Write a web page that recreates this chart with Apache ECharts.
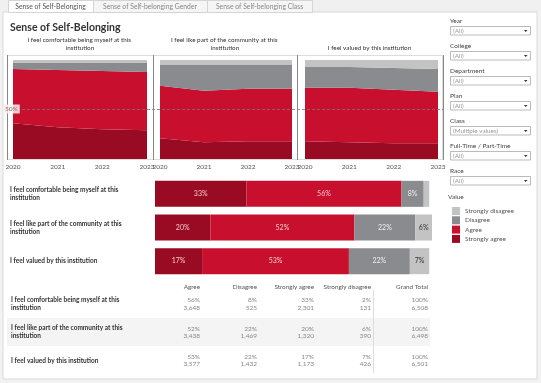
<!DOCTYPE html>
<html><head><meta charset="utf-8">
<script src="https://cdn.jsdelivr.net/npm/echarts@6/dist/echarts.min.js"></script>
<style>html,body{margin:0;padding:0;background:#f2f2f2;}#c{width:541px;height:383px;}</style>
</head><body><div id="c"></div>
<script>
// ---------- data ----------
const years = ['2020', '2021', '2022', '2023'];
const statements = [
  'I feel comfortable being myself at this institution',
  'I feel like part of the community at this institution',
  'I feel valued by this institution'
];
const responses = ['Strongly agree', 'Agree', 'Disagree', 'Strongly disagree'];
const legendOrder = ['Strongly disagree', 'Disagree', 'Agree', 'Strongly agree'];
// yearly share (%) per statement
const comfortSA = [36, 32, 30, 29], comfortA = [55, 58, 59, 59], comfortD = [6, 7, 8, 9], comfortSD = [3, 3, 3, 3];
const communitySA = [21, 17, 18, 18], communityA = [53, 52, 53, 53], communityD = [21, 26, 24, 24], communitySD = [5, 5, 5, 5];
const valuedSA = [18, 17, 16, 16], valuedA = [54, 55, 54, 52], valuedD = [21, 21, 22, 23], valuedSD = [7, 7, 8, 9];
// overall share (%)
const overallSA = [33, 20, 17], overallA = [56, 52, 53], overallD = [8, 22, 22], overallSD = [2, 6, 7];
const overallTotal = [100, 100, 100];
// counts
const countA = [3648, 3438, 3577], countD = [525, 1469, 1432], countSA = [2301, 1320, 1173], countSD = [131, 390, 426];
const countTotal = [6508, 6498, 6501];
const tableCols = ['Agree', 'Disagree', 'Strongly agree', 'Strongly disagree', 'Grand Total'];
const refValue = 50;
const filterLabels = ['Year', 'College', 'Department', 'Plan', 'Class', 'Full-Time / Part-Time', 'Race'];
const filterValues = ['(All)', '(All)', '(All)', '(All)', '(Multiple values)', '(All)', '(All)'];
const tabs = ['Sense of Self-Belonging', 'Sense of Self-belonging Gender', 'Sense of Self-belonging Class'];
const dashTitle = 'Sense of Self-Belonging';

// ---------- styling ----------
const FONT = 'Lato, "Noto Sans", sans-serif';
const colors = {'Strongly agree': '#990b22', 'Agree': '#c8102e', 'Disagree': '#898b8e', 'Strongly disagree': '#c3c3c3'};
const panelData = [
  [comfortSA, comfortA, comfortD, comfortSD],
  [communitySA, communityA, communityD, communitySD],
  [valuedSA, valuedA, valuedD, valuedSD]
];
const frames = [{x: 7, w: 146}, {x: 153, w: 144}, {x: 297, w: 145}];
const plots = [{x: 13, w: 134}, {x: 160, w: 132}, {x: 305, w: 133}];
const chart = echarts.init(document.getElementById('c'), null, {renderer: 'canvas'});

const grids = [], xAxes = [], yAxes = [], series = [];
plots.forEach((p, i) => {
  grids.push({left: p.x, top: 60, width: p.w, height: 99});
  xAxes.push({type: 'category', gridIndex: i, data: years, boundaryGap: false,
    axisLine: {show: false}, axisTick: {show: false}, splitLine: {show: false},
    axisLabel: {interval: 0, fontFamily: FONT, fontSize: 6.5, color: '#555', margin: 4}});
  yAxes.push({type: 'value', gridIndex: i, min: 0, max: 100, show: false});
  responses.forEach((r, k) => {
    series.push({
      type: 'line', name: r, xAxisIndex: i, yAxisIndex: i, stack: 'p' + i,
      data: panelData[i][k],
      showSymbol: false, symbol: 'none', silent: true,
      lineStyle: {width: 0}, areaStyle: {color: colors[r], opacity: 1}, itemStyle: {color: colors[r]}
    });
  });
});
// overlay grid for the reference line across all three panes
grids.push({left: 7, top: 60, width: 436, height: 99});
xAxes.push({type: 'value', gridIndex: 3, min: 0, max: 1, show: false});
yAxes.push({type: 'value', gridIndex: 3, min: 0, max: 100, show: false});
series.push({type: 'line', xAxisIndex: 3, yAxisIndex: 3, data: [[0, refValue]], showSymbol: false, symbol: 'none', silent: true,
  lineStyle: {opacity: 0}, z: 5,
  markLine: {silent: true, symbol: 'none', lineStyle: {type: [3, 2], color: '#777', width: 0.8},
    label: {show: true, position: 'insideStartTop', distance: -4, formatter: refValue + '%', fontFamily: FONT, fontSize: 6.5, color: '#777', backgroundColor: 'rgba(255,238,240,0.85)', padding: [1, 2]},
    data: [{yAxis: refValue}]}});
// bar chart
grids.push({left: 155, top: 177, width: 277, height: 101});
xAxes.push({type: 'value', gridIndex: 4, min: 0, max: 100, show: false});
yAxes.push({type: 'category', gridIndex: 4, inverse: true, data: statements,
  axisLine: {show: false}, axisTick: {show: false},
  axisLabel: {align: 'left', margin: 145, width: 122, overflow: 'break', fontFamily: FONT, fontSize: 6.5, fontWeight: 'bold', color: '#333', lineHeight: 8}});
const overall = [overallSA, overallA, overallD, overallSD];
const labelColors = ['#f3c9cf', '#f3c9cf', '#eeeeee', '#333'];
responses.forEach((r, k) => {
  series.push({type: 'bar', name: r, xAxisIndex: 4, yAxisIndex: 4, stack: 'bar', barWidth: 26,
    data: overall[k], itemStyle: {color: colors[r]}, silent: true,
    label: {show: true, position: 'inside', fontFamily: FONT, fontSize: 7, color: labelColors[k],
      formatter: p => p.value >= 4 ? p.value + '%' : ''}});
});

// ---------- graphics ----------
const g = [];
g.push({type: 'rect', shape: {x: 0, y: 0, width: 541, height: 12}, style: {fill: '#f0f0f0'}});
g.push({type: 'rect', shape: {x: 3, y: 12, width: 534, height: 367}, style: {fill: '#fff', stroke: '#dadada', lineWidth: 1}});
const tabX = [8, 93, 207, 312];
tabs.forEach((t, i) => {
  g.push({type: 'rect', shape: {x: tabX[i] + 0.5, y: 0.5, width: tabX[i + 1] - tabX[i], height: 12}, style: {fill: i === 0 ? '#fff' : '#f5f5f5', stroke: '#d4d4d4', lineWidth: 1}});
  g.push({type: 'text', x: (tabX[i] + tabX[i + 1]) / 2, y: 6.5, style: {text: t, fill: i === 0 ? '#555' : '#888', font: '6.8px ' + FONT, textAlign: 'center', textVerticalAlign: 'middle'}});
});
g.push({type: 'text', x: 10, y: 27.5, style: {text: dashTitle, fill: '#333', font: 'bold 10.5px ' + FONT, textVerticalAlign: 'middle'}});
// panel titles & frames
frames.forEach((p, i) => {
  g.push({type: 'text', x: p.x + p.w / 2, y: 51.5, style: {text: statements[i], width: i === 2 ? 200 : 118, overflow: 'break', fill: '#333', font: '6.3px ' + FONT, textAlign: 'center', textVerticalAlign: 'bottom', lineHeight: 7.5}});
  g.push({type: 'rect', shape: {x: p.x + 0.5, y: 55.5, width: p.w, height: 104}, style: {fill: 'none', stroke: '#dcdcdc', lineWidth: 1}});
});
[7, 153, 297, 443].forEach(x => g.push({type: 'line', shape: {x1: x + 0.5, y1: 55, x2: x + 0.5, y2: 160}, style: {stroke: '#888', lineWidth: 1}}));
// filters
filterLabels.forEach((f, i) => {
  const y0 = 20.5 + 25 * i;
  g.push({type: 'text', x: 450, y: y0, style: {text: f, fill: '#444', font: '6.5px ' + FONT, textVerticalAlign: 'middle'}});
  g.push({type: 'rect', shape: {x: 450.5, y: y0 + 6, width: 80, height: 8.5}, style: {fill: '#fff', stroke: '#aaa', lineWidth: 0.8}});
  g.push({type: 'text', x: 453, y: y0 + 10.5, style: {text: filterValues[i], fill: '#999', font: '6.3px ' + FONT, textVerticalAlign: 'middle'}});
  g.push({type: 'polygon', shape: {points: [[524, y0 + 9.5], [527.5, y0 + 9.5], [525.75, y0 + 11.5]]}, style: {fill: '#333'}});
});
g.push({type: 'text', x: 448, y: 197, style: {text: 'Value', fill: '#444', font: '6.5px ' + FONT, textVerticalAlign: 'middle'}});
// table
const colRight = [200, 257, 314, 371, 428];
const pctCols = [overallA, overallD, overallSA, overallSD, overallTotal];
const cntCols = [countA, countD, countSA, countSD, countTotal];
const rowCenter = [304, 332.3, 360.5];
g.push({type: 'rect', shape: {x: 7, y: 318, width: 423, height: 28}, style: {fill: '#f4f4f4'}});
g.push({type: 'line', shape: {x1: 373.5, y1: 290, x2: 373.5, y2: 373}, style: {stroke: '#ddd', lineWidth: 1}});
tableCols.forEach((c, j) => {
  g.push({type: 'text', x: colRight[j], y: 286.5, style: {text: c, fill: '#555', font: '6.3px ' + FONT, textAlign: 'right', textVerticalAlign: 'middle'}});
});
statements.forEach((s, r) => {
  g.push({type: 'text', x: 11, y: rowCenter[r], style: {text: s, width: 122, overflow: 'break', fill: '#333', font: 'bold 6.5px ' + FONT, textVerticalAlign: 'middle', lineHeight: 8}});
  colRight.forEach((x, j) => {
    g.push({type: 'text', x: x, y: rowCenter[r], style: {text: pctCols[j][r] + '%\n' + cntCols[j][r].toLocaleString('en-US'), fill: '#888', font: '6.5px ' + FONT, textAlign: 'right', textVerticalAlign: 'middle', lineHeight: 7.5}});
  });
});

chart.setOption({
  animation: false,
  backgroundColor: 'transparent',
  graphic: {elements: g},
  legend: {data: legendOrder, orient: 'vertical', left: 447, top: 202, itemWidth: 8, itemHeight: 8, itemGap: 1.3, icon: 'rect', selectedMode: false,
    textStyle: {fontFamily: FONT, fontSize: 6.5, color: '#555', lineHeight: 8}, itemStyle: {borderWidth: 0}},
  grid: grids, xAxis: xAxes, yAxis: yAxes, series: series
});
</script></body></html>
